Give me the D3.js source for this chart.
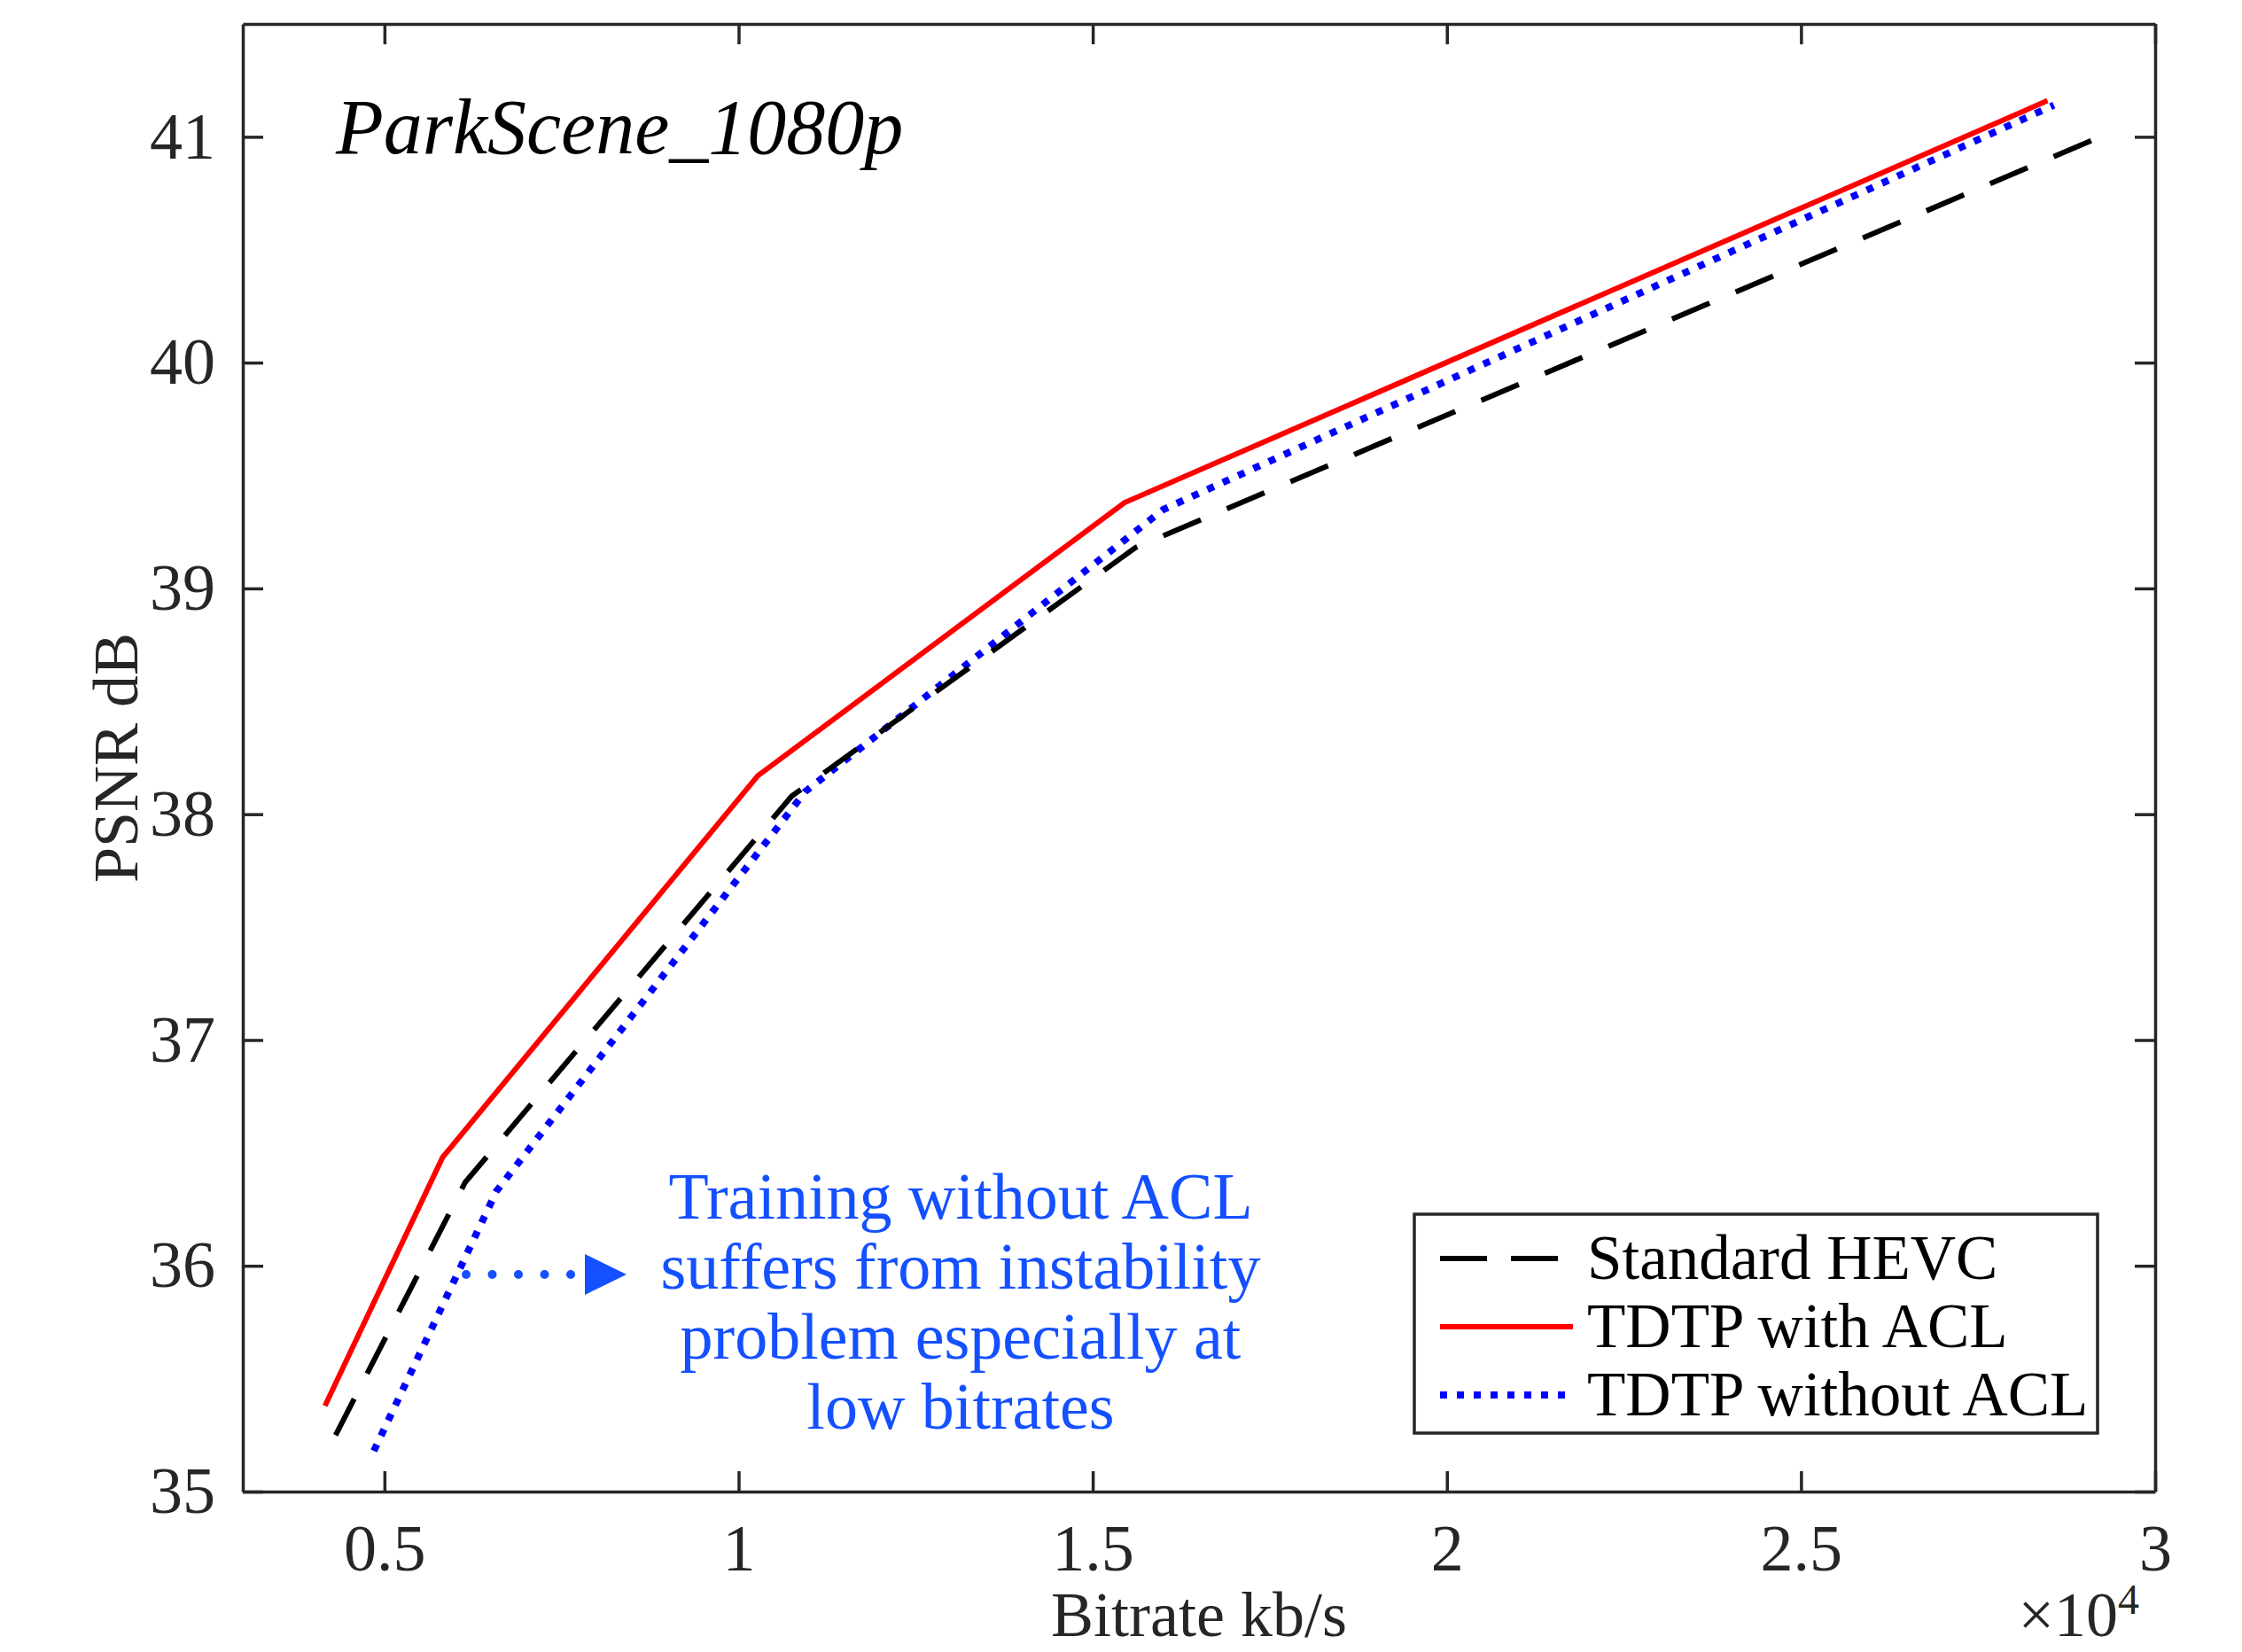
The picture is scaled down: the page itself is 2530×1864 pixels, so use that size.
<!DOCTYPE html>
<html>
<head>
<meta charset="utf-8">
<script src="https://d3js.org/d3.v7.min.js"></script>
<style>
  body { margin: 0; background: #fff; }
  svg { display: block; }
  .axis text { font-family: "Liberation Serif", serif; font-size: 74px; fill: #262626; }
  .axis path, .axis line { stroke: #262626; stroke-width: 3.5; }
</style>
</head>
<body>
<div id="chart"></div>
<script>
// data (bitrate in kb/s, PSNR in dB)
var seriesNames = ["Standard HEVC", "TDTP with ACL", "TDTP without ACL"];
var bitrateHEVC = [4310, 6140, 10750, 15600, 29150];
var psnrHEVC = [35.25, 36.37, 38.08, 39.18, 40.99];
var bitrateACL = [4160, 5820, 10270, 15450, 28480];
var psnrACL = [35.38, 36.48, 38.17, 39.38, 41.16];
var bitrateNoACL = [4850, 6580, 10940, 16000, 28570];
var psnrNoACL = [35.18, 36.33, 38.10, 39.35, 41.14];
var xTicks = [5000, 10000, 15000, 20000, 25000, 30000];
var xTickLabels = ["0.5", "1", "1.5", "2", "2.5", "3"];
var yTicks = [35, 36, 37, 38, 39, 40, 41];
var noteLines = ["Training without ACL", "suffers from instability", "problem especially at", "low bitrates"];

// set the dimensions and margins of the graph
var margin = {top: 27, right: 98, bottom: 181, left: 274},
    width = 2530 - margin.left - margin.right,
    height = 1864 - margin.top - margin.bottom;

var x = d3.scaleLinear().domain([3000, 30000]).range([0, width]);
var y = d3.scaleLinear().domain([35, 41.5]).range([height, 0]);

var svg = d3.select("#chart").append("svg")
    .attr("width", 2530)
    .attr("height", 1864)
    .append("g")
    .attr("transform", "translate(" + margin.left + "," + margin.top + ")");

// axes, ticks pointing inward on all four sides
svg.append("g")
    .attr("class", "axis")
    .attr("transform", "translate(0," + height + ")")
    .call(d3.axisBottom(x).tickValues(xTicks).tickSize(-23).tickSizeOuter(0).tickPadding(36)
      .tickFormat(function(d, i) { return xTickLabels[i]; }));

svg.append("g")
    .attr("class", "axis")
    .call(d3.axisTop(x).tickValues(xTicks).tickSize(-23).tickSizeOuter(0).tickFormat(""));

svg.append("g")
    .attr("class", "axis")
    .call(d3.axisLeft(y).tickValues(yTicks).tickSize(-23).tickSizeOuter(0).tickPadding(31)
      .tickFormat(d3.format("d")));

svg.append("g")
    .attr("class", "axis")
    .attr("transform", "translate(" + width + ",0)")
    .call(d3.axisRight(y).tickValues(yTicks).tickSize(-23).tickSizeOuter(0).tickFormat(""));

// the series
var series = [
  {name: seriesNames[0], xs: bitrateHEVC, ys: psnrHEVC, color: "#000000", dash: "46,32", w: 6},
  {name: seriesNames[1], xs: bitrateACL, ys: psnrACL, color: "#ff0000", dash: null, w: 6},
  {name: seriesNames[2], xs: bitrateNoACL, ys: psnrNoACL, color: "#0000ff", dash: "8,11", w: 8}
];

var line = d3.line()
    .x(function(d) { return x(d[0]); })
    .y(function(d) { return y(d[1]); });

// draw blue first, then black and red like the figure stacking
[series[2], series[0], series[1]].forEach(function(s) {
  svg.append("path")
      .datum(d3.zip(s.xs, s.ys))
      .attr("fill", "none")
      .attr("stroke", s.color)
      .attr("stroke-width", s.w)
      .attr("stroke-dasharray", s.dash)
      .attr("d", line);
});

// title inside the axes
svg.append("text")
    .attr("x", 105)
    .attr("y", 146)
    .style("font-family", "'Liberation Serif', serif")
    .style("font-style", "italic")
    .style("font-size", "88px")
    .text("ParkScene_1080p");

// axis labels
svg.append("text")
    .attr("x", width / 2)
    .attr("y", height + 163)
    .attr("text-anchor", "middle")
    .style("font-family", "'Liberation Serif', serif")
    .style("font-size", "72px")
    .style("fill", "#262626")
    .text("Bitrate kb/s");

svg.append("text")
    .attr("transform", "rotate(-90)")
    .attr("x", -height / 2)
    .attr("y", -119)
    .attr("text-anchor", "middle")
    .style("font-family", "'Liberation Serif', serif")
    .style("font-size", "72px")
    .style("fill", "#262626")
    .text("PSNR dB");

// x10^4 exponent label
var expo = svg.append("text")
    .attr("x", width - 18)
    .attr("y", height + 163)
    .attr("text-anchor", "end")
    .style("font-family", "'Liberation Serif', serif")
    .style("font-size", "72px")
    .style("fill", "#262626");
expo.append("tspan").text("\u00d710");
expo.append("tspan").attr("dy", -25).style("font-size", "48px").text("4");

// legend
var legend = svg.append("g")
    .attr("transform", "translate(" + (1596 - margin.left) + "," + (1370 - margin.top) + ")");

legend.append("rect")
    .attr("width", 771)
    .attr("height", 247)
    .attr("fill", "#fff")
    .attr("stroke", "#262626")
    .attr("stroke-width", 3.5);

series.forEach(function(s, i) {
  var ly = 50 + i * 77;
  legend.append("line")
      .attr("x1", 29).attr("x2", 179)
      .attr("y1", ly).attr("y2", ly)
      .attr("stroke", s.color)
      .attr("stroke-width", s.w)
      .attr("stroke-dasharray", i === 0 ? "53,27" : s.dash);
  legend.append("text")
      .attr("x", 195)
      .attr("y", ly)
      .attr("dy", "0.33em")
      .style("font-family", "'Liberation Serif', serif")
      .style("font-size", "71px")
      .text(s.name);
});

// annotation with dotted arrow
var noteColor = "#1450ff";
svg.append("line")
    .attr("x1", 526 - margin.left).attr("x2", 650 - margin.left)
    .attr("y1", 1438 - margin.top).attr("y2", 1438 - margin.top)
    .attr("stroke", noteColor)
    .attr("stroke-width", 10)
    .attr("stroke-linecap", "round")
    .attr("stroke-dasharray", "0,29.5");

svg.append("path")
    .attr("d", "M" + (660 - margin.left) + "," + (1415 - margin.top) +
               "L" + (707 - margin.left) + "," + (1438 - margin.top) +
               "L" + (660 - margin.left) + "," + (1461 - margin.top) + "Z")
    .attr("fill", noteColor);

svg.append("g").selectAll("text")
    .data(noteLines)
    .enter().append("text")
    .attr("x", 1084 - margin.left)
    .attr("y", function(d, i) { return 1375 - margin.top + i * 79; })
    .attr("text-anchor", "middle")
    .style("font-family", "'Liberation Serif', serif")
    .style("font-size", "74px")
    .style("fill", noteColor)
    .text(function(d) { return d; });
</script>
</body>
</html>
